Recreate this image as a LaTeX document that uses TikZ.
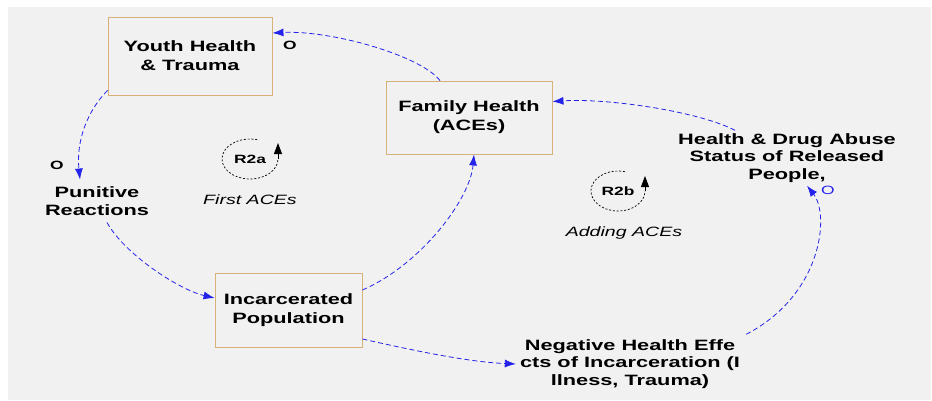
\documentclass[tikz,border=0pt]{standalone}
\usepackage{fontspec}
\setmainfont{Liberation Sans}[FakeStretch=1.45]
\usetikzlibrary{arrows.meta}
\definecolor{bgc}{RGB}{241,241,241}
\definecolor{boxc}{RGB}{214,178,122}
\definecolor{lnk}{RGB}{35,35,235}
\begin{document}
\begin{tikzpicture}[x=1pt,y=-1pt,
  var/.style={align=center, inner sep=0pt, font=\fontsize{15}{17.5}\selectfont\bfseries},
  box/.style={var, draw=boxc, line width=0.9pt, font=\fontsize{15}{19}\selectfont\bfseries},
  pol/.style={inner sep=0pt, font=\fontsize{12}{13}\selectfont\bfseries},
  link/.style={draw=lnk, line width=0.8pt, dash pattern=on 5pt off 3pt, -{Latex[length=11pt,width=8pt]}},
  loopc/.style={draw=black, line width=0.7pt, dash pattern=on 2pt off 1.8pt},
  looptip/.style={draw=black, line width=0.8pt, -{Triangle[length=11pt,width=8pt]}},
  looplab/.style={inner sep=0pt, font=\fontsize{12}{13}\selectfont\bfseries},
  loopname/.style={inner sep=0pt, font=\fontsize{13.5}{15}\selectfont\itshape}
]
\useasboundingbox (0,0) rectangle (932,400);
\fill[white] (0,0) rectangle (932,400);
\fill[bgc] (8,7) rectangle (931,400);

% variables
\node[box, minimum width=164pt, minimum height=78pt] (yh) at (190,56) {Youth Health\\\& Trauma};
\node[box, minimum width=166pt, minimum height=73pt] (fh) at (469,117.5) {Family Health\\(ACEs)};
\node[box, minimum width=147pt, minimum height=74pt] (ip) at (288.5,310) {Incarcerated\\Population};
\node[var] (pr) at (97,201) {Punitive\\Reactions};
\node[var] (hd) at (787,158) {Health \& Drug Abuse\\Status of Released\\People,};
\node[var] (ne) at (630,364) {Negative Health Effe\\cts of Incarceration (I\\llness, Trauma)};

% links
\draw[link] ([xshift=-29pt]fh.north) .. controls (420,55) and (330,30) .. ([yshift=23pt]yh.east);
\draw[link] ([yshift=5pt]yh.south west) .. controls (88,110) and (76,140) .. ([xshift=-17pt,yshift=7pt]pr.north);
\draw[link] ([xshift=10pt,yshift=-7pt]pr.south) .. controls (125,255) and (180,290) .. ([yshift=12pt]ip.west);
\draw[link] ([yshift=20pt]ip.east) .. controls (420,265) and (470,200) .. ([xshift=5pt]fh.south);
\draw[link] ([yshift=-29pt]ip.east) .. controls (420,352) and (470,362) .. ([xshift=-4pt]ne.west);
\draw[link] ([xshift=6pt,yshift=5pt]ne.north east) .. controls (822,295) and (830,215) .. ([xshift=20pt,yshift=-3pt]hd.south);
\draw[link] ([xshift=-52pt,yshift=3pt]hd.north) .. controls (700,112) and (610,98) .. ([yshift=16pt]fh.east);

% polarities
\node[pol] (o1) at (290,45) {O};
\node[pol] (o2) at (57,165) {O};
\node[pol, text=lnk, font=\fontsize{12}{13}\selectfont] (o3) at (828,190) {O};

% loop R2a
\node[looplab] (r2a) at (250,159) {R2a};
\begin{scope}[y=1pt, shift={(250,-159)}]
  \draw[loopc] (75:28 and 20) arc[start angle=75, end angle=360, x radius=28, y radius=20];
  \draw[looptip] (28,0) -- (28,16);
\end{scope}
\node[loopname] (fa) at (250,200) {First ACEs};

% loop R2b
\node[looplab] (r2b) at (618,191) {R2b};
\begin{scope}[y=1pt, shift={(618,-191)}]
  \draw[loopc] (75:27 and 20) arc[start angle=75, end angle=360, x radius=27, y radius=20];
  \draw[looptip] (27,0) -- (27,15);
\end{scope}
\node[loopname] (aa) at (624,233) {Adding ACEs};
\end{tikzpicture}
\end{document}
